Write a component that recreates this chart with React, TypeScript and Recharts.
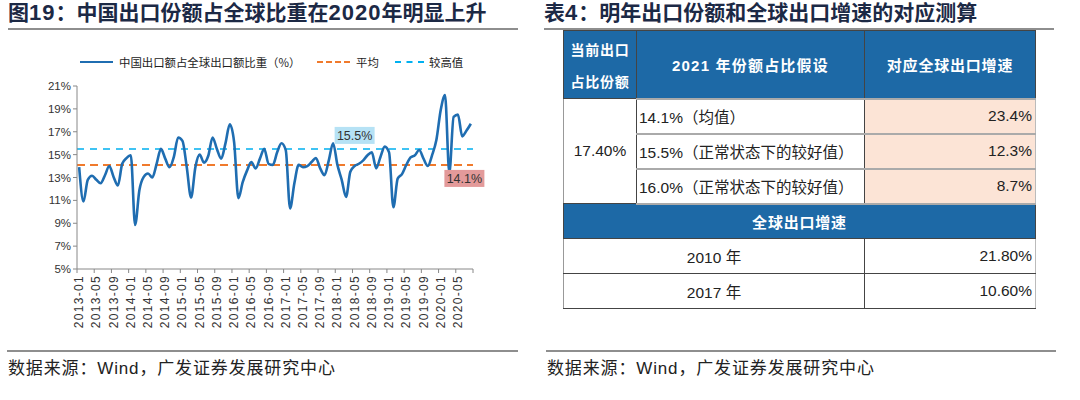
import React from 'react';
import { LineChart, Line, XAxis, YAxis, ReferenceLine, ReferenceDot } from 'recharts';

// 中国出口额占全球出口额比重（%），2013-01 起按月
const START_YEAR = 2013;
const shareValues = [
  13.9, 10.9, 12.8, 13.15, 12.8, 12.5, 13.2, 14.0, 13.05, 12.3, 14.2, 14.7,
  14.95, 8.85, 11.9, 13.05, 13.35, 13.0, 14.2, 15.5, 14.65, 13.9, 14.8, 16.5,
  16.2, 13.9, 11.25, 13.9, 15.0, 14.3, 14.9, 16.5, 15.5, 14.65, 16.0, 17.65,
  16.1, 11.2, 12.6, 13.6, 14.35, 13.8, 14.65, 15.5, 14.2, 14.1, 15.2, 16.0,
  15.4, 10.3, 12.5, 14.1, 13.9, 14.0, 14.35, 14.7, 13.8, 13.2, 14.5, 16.0,
  14.1, 12.8, 11.3, 13.5, 14.0, 14.2, 14.5, 14.95, 15.2, 13.8, 14.8, 15.7,
  15.2, 10.4, 12.9, 13.3, 14.1, 14.75, 14.95, 15.4, 14.65, 14.0, 14.95, 16.3,
  18.9, 20.2, 13.4, 18.3, 18.5, 16.6, 17.1, 17.7,
];
const months = shareValues.map((_, i) => {
  const y = START_YEAR + Math.floor(i / 12);
  const m = (i % 12) + 1;
  return `${y}-${String(m).padStart(2, '0')}`;
});
const yTicks = [5, 7, 9, 11, 13, 15, 17, 19, 21];
const LABEL_EVERY = 4;
const xTicks = Array.from({ length: months.length / LABEL_EVERY + 1 }, (_, k) => k * LABEL_EVERY - 0.5);

const AVG = 14.1;
const HIGH = 15.5;
const annotations = [
  { x: 64, y: HIGH, text: '15.5%', fill: '#b6e2f5', above: true },
  { x: 89.5, y: AVG, text: '14.1%', fill: '#e39a9a', above: false },
];

// 表4
const currentShare = '17.40%';
const shareAssumptions = ['14.1%（均值）', '15.5%（正常状态下的较好值）', '16.0%（正常状态下的较好值）'];
const impliedGrowth = ['23.4%', '12.3%', '8.7%'];
const histYears = ['2010 年', '2017 年'];
const histGrowth = ['21.80%', '10.60%'];

const BLUE = '#1f6db1';
const HEADER_BG = '#1d69a6';
const PEACH = '#fce4d6';
const CJK = '"Noto Sans CJK SC", sans-serif';
const LATIN = '"Liberation Sans", "Noto Sans CJK SC", sans-serif';
const HALF_CAT = 396 / 92 / 2;

const data = shareValues.map((v, i) => ({ i, month: months[i], v }));

const MonthTick = (props: any) => {
  const { x, y, payload } = props;
  const idx = Math.round(payload.value + 0.5);
  if (idx >= months.length) return null;
  const cx = x + HALF_CAT;
  return (
    <text x={cx} y={y} transform={`rotate(-90 ${cx} ${y})`} textAnchor="end" dominantBaseline="central"
      fontSize={12} letterSpacing={1.3} fill="#333" fontFamily={LATIN}>
      {months[idx]}
    </text>
  );
};

const tagShape = (text: string, fill: string, above: boolean) => (p: any) => {
  const w = 40;
  const h = 17;
  const top = above ? p.cy - 5 - h : p.cy + 5;
  return (
    <g>
      <rect x={p.cx - w / 2} y={top} width={w} height={h} fill={fill} />
      <text x={p.cx} y={top + h / 2 + 1} textAnchor="middle" dominantBaseline="central" fontSize={12.5} fill="#333" fontFamily={LATIN}>
        {text}
      </text>
    </g>
  );
};

const titleStyle: React.CSSProperties = {
  position: 'absolute', top: 0, fontFamily: LATIN, fontWeight: 700, fontSize: 21,
  color: '#1c2945', whiteSpace: 'nowrap', lineHeight: '26px',
};
const ruleStyle: React.CSSProperties = { position: 'absolute', height: 2, background: '#8e8e8e' };
const sourceStyle: React.CSSProperties = {
  position: 'absolute', top: 358, fontFamily: LATIN, fontSize: 17, color: '#222', lineHeight: '22px',
  letterSpacing: 0.85, whiteSpace: 'nowrap',
};

// 标题中的数字略宽
const Num = ({ children }: { children: React.ReactNode }) => <span style={{ fontSize: 22, letterSpacing: 1 }}>{children}</span>;

function Legend() {
  const item = (color: string, dashed: boolean, left: number, w: number) => (
    <div style={{ position: 'absolute', left, top: 61, width: w, borderTop: `2px ${dashed ? 'dashed' : 'solid'} ${color}` }} />
  );
  const txt = (s: string, left: number) => (
    <div style={{ position: 'absolute', left, top: 54, fontFamily: CJK, fontSize: 11.4, color: '#222', lineHeight: '16px', whiteSpace: 'nowrap' }}>{s}</div>
  );
  return (
    <>
      {item(BLUE, false, 80, 33)}
      {txt('中国出口额占全球出口额比重（%）', 119)}
      {item('#f07a2c', true, 317, 33)}
      {txt('平均', 356)}
      {item('#00b0f0', true, 395, 29)}
      {txt('较高值', 429)}
    </>
  );
}

const cell = (extra: React.CSSProperties = {}): React.CSSProperties => ({
  border: '1px solid #444', padding: '0 3px', fontFamily: LATIN, fontSize: 15.5, color: '#222', ...extra,
});

function ProjectionTable() {
  const head = cell({ background: HEADER_BG, color: '#fff', fontWeight: 700, fontFamily: CJK, textAlign: 'center', letterSpacing: 0.8, fontSize: 15 });
  return (
    <table style={{ position: 'absolute', left: 563, top: 30, width: 472, borderCollapse: 'collapse', tableLayout: 'fixed' }}>
      <colgroup>
        <col style={{ width: 73 }} />
        <col style={{ width: 228 }} />
        <col style={{ width: 171 }} />
      </colgroup>
      <tbody>
        <tr style={{ height: 68 }}>
          <td style={{ ...head, fontSize: 14, lineHeight: '32px', letterSpacing: 0.7 }}>当前出口<br />占比份额</td>
          <td style={{ ...head, fontFamily: LATIN, letterSpacing: 1.2 }}>2021 年份额占比假设</td>
          <td style={head}>对应全球出口增速</td>
        </tr>
        {shareAssumptions.map((s, k) => (
          <tr key={s} style={{ height: 35 }}>
            {k === 0 && (
              <td rowSpan={3} style={cell({ textAlign: 'center', borderLeft: '1px solid #999' })}>{currentShare}</td>
            )}
            <td style={cell({ textAlign: 'left', padding: '0 2px', borderTop: '2px solid #aaa', borderBottom: '2px solid #aaa' })}>{s}</td>
            <td style={cell({ textAlign: 'right', background: PEACH, borderTop: '2px solid #aaa', borderBottom: '2px solid #aaa', borderRight: '1px solid #bbb' })}>{impliedGrowth[k]}</td>
          </tr>
        ))}
        <tr style={{ height: 35 }}>
          <td colSpan={3} style={head}>全球出口增速</td>
        </tr>
        {histYears.map((yr, k) => (
          <tr key={yr} style={{ height: 35 }}>
            <td colSpan={2} style={cell({ textAlign: 'center', borderLeft: '1px solid #999' })}>{yr}</td>
            <td style={cell({ textAlign: 'right', borderRight: '1px solid #bbb' })}>{histGrowth[k]}</td>
          </tr>
        ))}
      </tbody>
    </table>
  );
}

export default function App() {
  return (
    <div style={{ position: 'absolute', left: 0, top: 0, width: 1080, height: 400, background: '#fff', overflow: 'hidden' }}>
      <div style={{ ...titleStyle, left: 8 }}>图<Num>19</Num>：中国出口份额占全球比重在<Num>2020</Num>年明显上升</div>
      <div style={{ ...ruleStyle, left: 8, top: 28, width: 510 }} />
      <div style={{ ...titleStyle, left: 544 }}>表<Num>4</Num>：明年出口份额和全球出口增速的对应测算</div>
      <div style={{ ...ruleStyle, left: 544, top: 28, width: 510 }} />

      <Legend />
      <div style={{ position: 'absolute', left: 0, top: 0 }}>
        <LineChart width={520} height={340} data={data} margin={{ top: 86, right: 47, left: 17, bottom: 11 }}>
          <XAxis dataKey="i" type="number" domain={[-0.5, 91.5]} ticks={xTicks} interval={0} height={60}
            axisLine={{ stroke: '#888' }} tickLine={{ stroke: '#888' }} tickSize={4} tick={<MonthTick />} />
          <YAxis type="number" domain={[5, 21]} ticks={yTicks} interval={0} width={60}
            tickFormatter={(v: number) => `${v}%`} axisLine={{ stroke: '#888' }} tickLine={{ stroke: '#888' }} tickSize={4}
            tick={{ fontSize: 11.5, fill: '#333', fontFamily: LATIN }} />
          <ReferenceLine y={AVG} stroke="#f07a2c" strokeWidth={2} strokeDasharray="8 5" />
          <ReferenceLine y={HIGH} stroke="#00b0f0" strokeWidth={1.5} strokeDasharray="7 6" />
          <Line type="monotone" dataKey="v" stroke={BLUE} strokeWidth={2.6} dot={false} isAnimationActive={false} />
          {annotations.map((a) => (
            <ReferenceDot key={a.text} x={a.x} y={a.y} r={0} shape={tagShape(a.text, a.fill, a.above)} />
          ))}
        </LineChart>
      </div>

      <ProjectionTable />

      <div style={{ ...ruleStyle, left: 7, top: 350, width: 511 }} />
      <div style={{ ...ruleStyle, left: 546, top: 350, width: 510 }} />
      <div style={{ ...sourceStyle, left: 8 }}>数据来源：Wind，广发证券发展研究中心</div>
      <div style={{ ...sourceStyle, left: 547 }}>数据来源：Wind，广发证券发展研究中心</div>
    </div>
  );
}
